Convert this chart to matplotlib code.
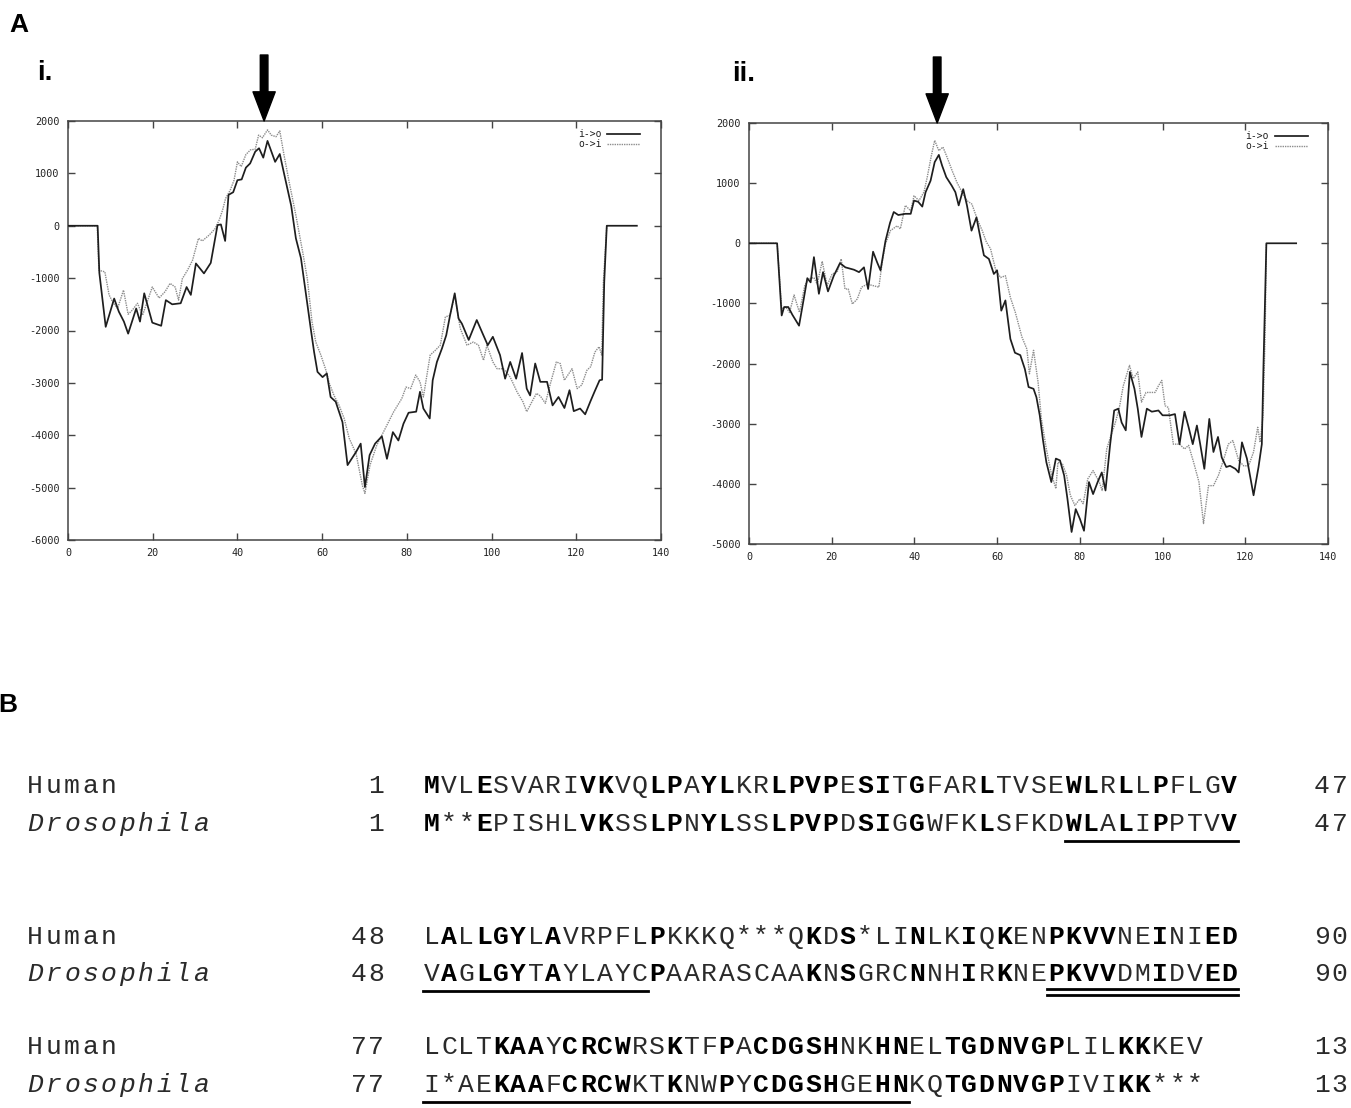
import matplotlib
matplotlib.use("Agg")
import matplotlib.pyplot as plt
import numpy as np

# ---------------- data ----------------
# Panel A i: hydropathy profile (position, score)
I_IO = [(0, 0), (7, 0), (7.4, -900), (8.9, -1930), (10.9, -1390), (12, -1640), (13.2, -1830),
        (14.2, -2060), (16.1, -1580), (17, -1830), (18, -1290), (19.9, -1850), (22, -1910),
        (23.1, -1420), (24.6, -1500), (26.6, -1480), (28, -1170), (29, -1320), (30.2, -720),
        (32.1, -910), (33.7, -710), (35.3, 13), (36.1, 25), (37.1, -290), (37.9, 590), (39, 640),
        (40, 870), (41, 885), (42, 1110), (43, 1190), (44.2, 1415), (45.1, 1480), (46.1, 1300),
        (47.1, 1620), (48.9, 1220), (50, 1370), (51, 1000), (52.7, 380), (53.8, -240), (55, -620),
        (56.1, -1260), (57.3, -1960), (58.1, -2410), (58.9, -2790), (60.1, -2890), (61.1, -2820),
        (62, -3270), (63.2, -3360), (64.8, -3750), (66, -4570), (68, -4320), (69.1, -4160),
        (70.1, -4990), (71.2, -4380), (72.5, -4160), (74.1, -4020), (75.3, -4450), (76.7, -3940),
        (78, -4100), (79.2, -3780), (80.4, -3570), (82.2, -3550), (83.1, -3170), (83.9, -3490),
        (85.4, -3680), (86.1, -2950), (87.1, -2600), (88.3, -2340), (89.3, -2090), (90.2, -1710),
        (91.3, -1290), (92.2, -1770), (93, -1870), (94.6, -2180), (96.5, -1800), (97.9, -2060),
        (99.1, -2280), (100.3, -2120), (102, -2470), (103.2, -2920), (104.4, -2600), (105.8, -2920),
        (107.2, -2430), (108.3, -3110), (109.1, -3240), (110.3, -2630), (111.5, -2980), (113.1, -2980),
        (114.4, -3430), (115.8, -3270), (117.2, -3480), (118.4, -3140), (119.4, -3540), (120.9, -3490),
        (122.1, -3600), (123.3, -3360), (124.3, -3170), (125.5, -2950), (126.1, -2940), (126.6, -1070),
        (127.2, 0), (134.3, 0)]
I_OI = [(0, 0), (6.9, 0), (7.3, -850), (8.7, -880), (9.7, -1320), (10.5, -1450), (11.7, -1580),
        (13.1, -1230), (14.2, -1690), (15.2, -1610), (16.4, -1480), (17.6, -1710), (19.9, -1170),
        (21.5, -1380), (22.9, -1260), (24.1, -1100), (25.3, -1170), (26.1, -1420), (27, -1010),
        (28.2, -850), (29.4, -660), (30.8, -240), (31.7, -290), (33.3, -180), (34.7, -60), (35.7, 110),
        (36.5, 300), (37.2, 520), (38.3, 680), (39.2, 870), (40, 1220), (40.9, 1130), (42, 1360),
        (43.1, 1450), (44.2, 1460), (45, 1730), (45.9, 1680), (47.1, 1830), (48, 1730), (49.1, 1700),
        (50, 1810), (51, 1350), (52.2, 840), (53.8, 200), (55.4, -500), (56.5, -1010), (57.6, -1830),
        (58.5, -2220), (59.7, -2470), (60.9, -2760), (61.7, -3010), (62.8, -3240), (64, -3430),
        (65.2, -3680), (66.4, -4060), (68, -4350), (69.5, -4960), (70.1, -5110), (71.3, -4570),
        (72.9, -4190), (74.9, -3870), (76.9, -3550), (78.8, -3300), (79.8, -3080), (80.9, -3110),
        (82.1, -2850), (83.1, -2980), (83.9, -3270), (85.5, -2470), (86.7, -2380), (87.9, -2280),
        (89.1, -1740), (90.2, -1710), (91.3, -1320), (92.6, -1960), (94.2, -2280), (95.7, -2220),
        (96.9, -2280), (98.1, -2570), (98.9, -2280), (100.3, -2600), (101.3, -2730), (102.8, -2730),
        (104.4, -2890), (106, -3170), (107.4, -3360), (108.3, -3550), (109.4, -3380), (110.6, -3200),
        (111.5, -3250), (112.7, -3390), (113.9, -3010), (115.3, -2600), (116.2, -2630), (117.2, -2950),
        (119, -2730), (120.2, -3110), (121.3, -3040), (122.5, -2760), (123.4, -2690), (124.4, -2410),
        (125.4, -2310), (126, -2470), (126.4, -1070), (127.2, 0)]

# Panel A ii
II_IO = [(0, 0), (6.8, 0), (7.9, -1200), (8.5, -1060), (9.5, -1060), (10.5, -1190), (12.1, -1370),
         (13.3, -900), (14.1, -580), (14.9, -650), (15.7, -230), (16.9, -840), (17.9, -480),
         (19.1, -800), (20.5, -540), (22, -330), (23.3, -400), (25.4, -440), (26.6, -480),
         (27.8, -400), (28.8, -760), (30, -140), (31, -320), (31.8, -450), (33, 40), (34.1, 340),
         (35, 520), (36.1, 470), (37.8, 490), (39.1, 490), (39.9, 710), (40.9, 690), (41.9, 610),
         (42.7, 850), (43.9, 1040), (44.9, 1350), (45.9, 1470), (46.7, 1290), (47.7, 1100),
         (49, 960), (49.9, 850), (50.7, 630), (51.8, 900), (52.7, 630), (53.8, 210), (55, 430),
         (55.7, 180), (56.8, -200), (58, -260), (59.2, -510), (60, -450), (61, -1120), (62, -950),
         (63.2, -1590), (64.3, -1820), (65.6, -1860), (66.7, -2090), (67.6, -2390), (68.8, -2420),
         (69.5, -2560), (70.3, -2860), (71.1, -3280), (71.9, -3640), (73.1, -3970), (74.2, -3580),
         (75.2, -3610), (76.2, -3860), (77, -4250), (78, -4800), (79, -4420), (80, -4580),
         (81, -4780), (82.2, -3970), (83.2, -4170), (84.3, -3970), (85.3, -3810), (86.2, -4110),
         (87.3, -3360), (88.3, -2780), (89.3, -2750), (90.1, -2980), (91.1, -3110), (92.1, -2140),
         (93.2, -2420), (94, -2750), (94.9, -3220), (96.2, -2750), (97.4, -2800), (99, -2780),
         (100, -2860), (101.8, -2860), (103, -2840), (104.1, -3340), (105.3, -2800), (106.3, -3060),
         (107.3, -3340), (108.3, -3030), (109.1, -3340), (110.1, -3750), (111.3, -2920),
         (112.3, -3470), (113.4, -3220), (114.3, -3560), (115.4, -3720), (116.3, -3700),
         (117.6, -3750), (118.4, -3810), (119.2, -3310), (120.4, -3580), (122, -4190), (123.2, -3720),
         (124, -3340), (124.4, -2030), (125.1, 0), (132.3, 0)]
II_OI = [(0, 0), (6.8, 0), (7.9, -1090), (8.9, -1060), (9.8, -1150), (10.9, -860), (12.2, -1150),
         (13.5, -700), (14.5, -590), (15.7, -570), (16.5, -680), (17.7, -300), (18.9, -700),
         (20.1, -510), (21.3, -480), (22.3, -260), (23.2, -760), (24, -760), (25, -1010),
         (26.2, -925), (27.2, -730), (28.6, -680), (29.8, -700), (31.4, -730), (32.2, -320),
         (33, -10), (34.2, 210), (35.8, 290), (36.6, 240), (37.8, 630), (39.1, 540), (39.9, 790),
         (41.1, 710), (42.3, 850), (43.1, 1100), (44.1, 1460), (44.9, 1710), (45.9, 1540),
         (46.9, 1600), (47.9, 1430), (49.1, 1210), (50.3, 1010), (51.5, 850), (52.7, 710),
         (53.9, 650), (55.2, 400), (56.4, 210), (57.4, 20), (58.4, -90), (59.6, -430), (60.8, -570),
         (62, -540), (63.2, -900), (64.4, -1150), (66, -1560), (67.2, -1760), (67.8, -2170),
         (68.8, -1780), (69.9, -2310), (70.7, -2920), (71.9, -3420), (73.1, -3830), (74.2, -4080),
         (74.7, -3640), (75.8, -3670), (76.8, -3860), (77.7, -4190), (78.8, -4360), (80, -4250),
         (80.8, -4330), (81.9, -3920), (83.2, -3780), (84.7, -3970), (85.4, -4110), (86.5, -3420),
         (87.5, -3200), (88.5, -3000), (89.5, -2750), (90.5, -2370), (92, -2030), (92.9, -2250),
         (94, -2140), (94.9, -2640), (96, -2480), (98.2, -2480), (99, -2370), (99.8, -2280),
         (100.6, -2700), (101.4, -2730), (102.6, -3340), (104.1, -3340), (105.3, -3420),
         (106.3, -3360), (107.5, -3640), (108.8, -3970), (109.9, -4660), (111.1, -4030),
         (112.3, -4030), (113.5, -3860), (114.7, -3610), (115.9, -3340), (117, -3280),
         (118.4, -3610), (119.6, -3700), (120.8, -3700), (122, -3470), (123, -3060), (123.6, -3310),
         (124.3, -2860), (124.8, -1500), (125.1, 0)]

ARROW_X = [46.3, 45.5]           # arrow positions (residue) in panels i and ii
XTICKS = [0, 20, 40, 60, 80, 100, 120, 140]
YTICKS_I = [2000, 1000, 0, -1000, -2000, -3000, -4000, -5000, -6000]
YTICKS_II = [2000, 1000, 0, -1000, -2000, -3000, -4000, -5000]
LEGEND = ["i->o", "o->i"]

# Panel B: alignment
SPECIES = ["Human", "Drosophila"]
HUMAN = ["MVLESVARIVKVQLPAYLKRLPVPESITGFARLTVSEWLRLLPFLGV",
         "LALLGYLAVRPFLPKKKQ***QKDS*LINLKIQKENPKVVNEINIED",
         "LCLTKAAYCRCWRSKTFPACDGSHNKHNELTGDNVGPLILKKKEV"]
DROSO = ["M**EPISHLVKSSLPNYLSSLPVPDSIGGWFKLSFKDWLALIPPTVV",
         "VAGLGYTAYLAYCPAARASCAAKNSGRCNNHIRKNEPKVVDMIDVED",
         "I*AEKAAFCRCWKTKNWPYCDGSHGEHNKQTGDNVGPIVIKK***"]
START = ["1", "48", "77"]
END = ["47", "90", "13"]
# underlined segments (block, first residue col, last residue col, n lines)
UNDERLINES = [(0, 38, 47, 1), (1, 1, 13, 1), (1, 37, 47, 2), (2, 1, 28, 1)]

# ---------------- figure ----------------
W, H = 1351, 1108
fig = plt.figure(figsize=(W / 100, H / 100), dpi=100)


def fx(x):
    return x / W


def fy(y):
    return 1 - y / H


def make_axes(box, io, oi, yticks, ylim, arrow_x):
    l, t, r, b = box
    ax = fig.add_axes([fx(l), fy(b), fx(r) - fx(l), fy(t) - fy(b)])
    xi, yi = zip(*io)
    xo, yo = zip(*oi)
    ax.plot(xi, yi, color="#1e1e1e", lw=1.25, label=LEGEND[0], zorder=3)
    ax.plot(xo, yo, color="#8c8c8c", lw=1.0, ls=(0, (1, 0.7)), label=LEGEND[1], zorder=2)
    ax.set_xlim(0, 140)
    ax.set_ylim(*ylim)
    ax.set_xticks(XTICKS)
    ax.set_yticks(yticks)
    ax.set_xticklabels([str(v) for v in XTICKS])
    ax.set_yticklabels([str(v) for v in yticks])
    ax.tick_params(direction="in", length=5, width=1, color="#444444",
                   top=True, right=True, labelsize=7.3, labelcolor="#222222", pad=6)
    for lab in ax.get_xticklabels() + ax.get_yticklabels():
        lab.set_family("DejaVu Sans Mono")
    for s in ax.spines.values():
        s.set_color("#444444")
        s.set_linewidth(1.1)
    leg = ax.legend(loc="upper right", bbox_to_anchor=(0.975, 0.995), frameon=False,
                    markerfirst=False, handlelength=3.4, handletextpad=0.6,
                    labelspacing=0.0, borderaxespad=0.2,
                    prop={"family": "DejaVu Sans Mono", "size": 7})
    for t_ in leg.get_texts():
        t_.set_color("#222222")
    ax.annotate("", xy=(arrow_x, 1.0), xycoords=("data", "axes fraction"),
                xytext=(arrow_x, 1.0 + 66 / (b - t)), textcoords=("data", "axes fraction"),
                arrowprops=dict(facecolor="black", edgecolor="black", width=5.5,
                                headwidth=16, headlength=21, shrink=0),
                annotation_clip=False)
    return ax


make_axes((68, 121, 661, 540), I_IO, I_OI, YTICKS_I, (-6000, 2000), ARROW_X[0])
make_axes((749, 123, 1328, 544), II_IO, II_OI, YTICKS_II, (-5000, 2000), ARROW_X[1])

lab = dict(fontfamily="Liberation Sans", fontweight="bold", va="baseline", ha="left")
fig.text(fx(9), fy(32), "A", fontsize=19, **lab)
fig.text(fx(37), fy(80), "i.", fontsize=20, **lab)
fig.text(fx(732), fy(81), "ii.", fontsize=20, **lab)
fig.text(fx(-2), fy(712), "B", fontsize=19, **lab)

# alignment text
MONO = "Liberation Mono"
FS = 19
CW = 17.34           # sequence character pitch in pixels
LW_ = 18.4           # label character pitch
SEQ_X0 = 423
ROW_Y = [(793, 831), (944, 981), (1054, 1092)]
NORMAL_C = "#2a2a2a"


def put_string(s, x0, y, pitch, **kw):
    for i, ch in enumerate(s):
        fig.text(fx(x0 + (i + 0.5) * pitch), fy(y), ch, fontsize=FS, fontfamily=MONO,
                 va="baseline", ha="center", **kw)


for blk in range(3):
    hum, dro = HUMAN[blk], DROSO[blk]
    ys = ROW_Y[blk]
    for k, (name, seq) in enumerate(zip(SPECIES, (hum, dro))):
        y = ys[k]
        put_string(name, 26, y, LW_, style="italic" if name == "Drosophila" else "normal",
                   color=NORMAL_C)
        st = START[blk]
        put_string(st, 385 - len(st) * 17.6, y, 17.6, color=NORMAL_C)
        put_string(END[blk], 1313, y, 17.8, color=NORMAL_C)
        for i, ch in enumerate(seq):
            other = dro if k == 0 else hum
            bold = i < len(other) and other[i] == ch and ch != "*"
            fig.text(fx(SEQ_X0 + (i + 0.5) * CW), fy(y), ch, fontsize=FS, fontfamily=MONO,
                     fontweight="bold" if bold else "normal", va="baseline", ha="center",
                     color="black" if bold else NORMAL_C)

for blk, c0, c1, n in UNDERLINES:
    ybase = ROW_Y[blk][1]
    x0 = SEQ_X0 + (c0 - 1) * CW
    x1 = SEQ_X0 + c1 * CW
    offs = [10] if n == 1 else [8, 14]
    for o in offs:
        fig.add_artist(plt.Line2D([fx(x0), fx(x1)], [fy(ybase + o), fy(ybase + o)],
                                  color="black", lw=2.0, transform=fig.transFigure))

fig.savefig("out.png", dpi=100)
